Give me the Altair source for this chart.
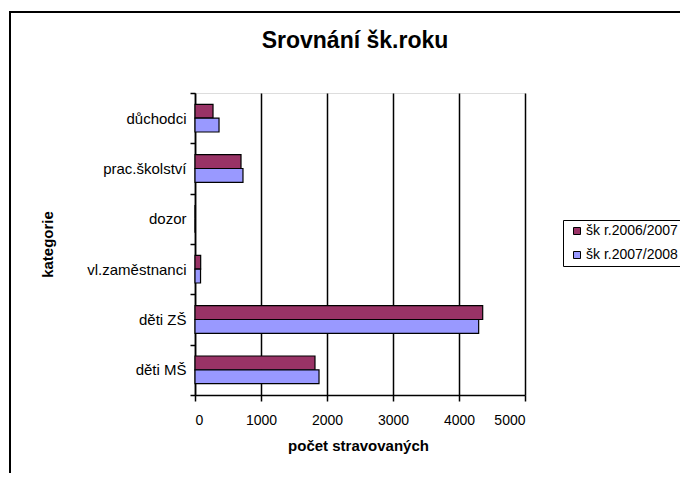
import altair as alt
import pandas as pd

categories = ["důchodci", "prac.školství", "dozor", "vl.zaměstnanci", "děti ZŠ", "děti MŠ"]
series = ["šk r.2006/2007", "šk r.2007/2008"]
values_2006 = [273, 697, 0, 86, 4359, 1818]
values_2007 = [364, 727, 0, 84, 4298, 1879]
x_ticks = [0, 1000, 2000, 3000, 4000, 5000]
colors = ["#993366", "#9999FF"]

rows = []
for c, v in zip(categories, values_2006):
    rows.append({"kategorie": c, "rok": series[0], "pocet": v})
for c, v in zip(categories, values_2007):
    rows.append({"kategorie": c, "rok": series[1], "pocet": v})
df = pd.DataFrame(rows)

FONT = "Liberation Sans"

bars = alt.Chart(df).mark_bar(stroke="black", strokeWidth=1.2).encode(
    y=alt.Y(
        "kategorie:N",
        sort=categories,
        scale=alt.Scale(paddingInner=0, paddingOuter=0),
        axis=alt.Axis(
            title="kategorie",
            titleFontSize=15,
            titleFontWeight="bold",
            titleFont=FONT,
            titleColor="black",
            titleAngle=270,
            titleX=-148,
            titleY=151,
            titleAlign="center",
            titleBaseline="middle",
            labelFontSize=15,
            labelFont=FONT,
            labelColor="black",
            labelPadding=4,
            tickBand="extent",
            tickSize=5,
            tickColor="black",
            tickWidth=1.5,
            domainColor="black",
            domainWidth=1.5,
            grid=False,
        ),
    ),
    yOffset=alt.YOffset(
        "rok:N",
        sort=series,
        scale=alt.Scale(paddingInner=0, paddingOuter=0.82),
    ),
    x=alt.X(
        "pocet:Q",
        scale=alt.Scale(domain=[0, 5000], nice=False),
        axis=alt.Axis(
            title="počet stravovaných",
            titleFontSize=15,
            titleFontWeight="bold",
            titleFont=FONT,
            titleColor="black",
            titleX=163,
            titleY=50,
            titleBaseline="middle",
            values=x_ticks,
            format="d",
            labelFontSize=14,
            labelFont=FONT,
            labelColor="black",
            labelPadding=12,
            tickSize=6,
            tickColor="black",
            tickWidth=1.5,
            domainColor="black",
            domainWidth=1.5,
            grid=True,
            gridColor="black",
            gridWidth=1.5,
        ),
    ),
    color=alt.Color(
        "rok:N",
        sort=series,
        scale=alt.Scale(domain=series, range=colors),
        legend=alt.Legend(
            title=None,
            orient="none",
            legendX=368,
            legendY=127,
            strokeColor="black",
            fillColor="white",
            padding=4,
            symbolOffset=3,
            symbolType="square",
            symbolSize=49,
            symbolStrokeColor="black",
            symbolStrokeWidth=1,
            labelFontSize=14,
            labelFont=FONT,
            labelColor="black",
            labelOffset=2,
            rowPadding=10,
        ),
    ),
)

frame = alt.Chart(pd.DataFrame({"f": [0]})).mark_rect(
    filled=False, stroke="black", strokeWidth=2
).encode(
    x=alt.value(-185),
    x2=alt.value(1000),
    y=alt.value(-81),
    y2=alt.value(1000),
)

chart = alt.layer(frame, bars).properties(
    width=330,
    height=302,
    padding={"left": 187, "top": 85, "right": 155, "bottom": 78},
    autosize=alt.AutoSizeParams(type="none"),
    title=alt.TitleParams(
        text="Srovnání šk.roku",
        fontSize=23,
        fontWeight="bold",
        font=FONT,
        color="black",
        anchor="middle",
        offset=-60,
        baseline="alphabetic",
        dx=-5,
    ),
).configure_view(
    fill="#C0C0C0",
    stroke="#808080",
    strokeWidth=1.5,
).configure(background="white")

chart.save("out.html", embed_options={"renderer": "svg", "actions": False})
